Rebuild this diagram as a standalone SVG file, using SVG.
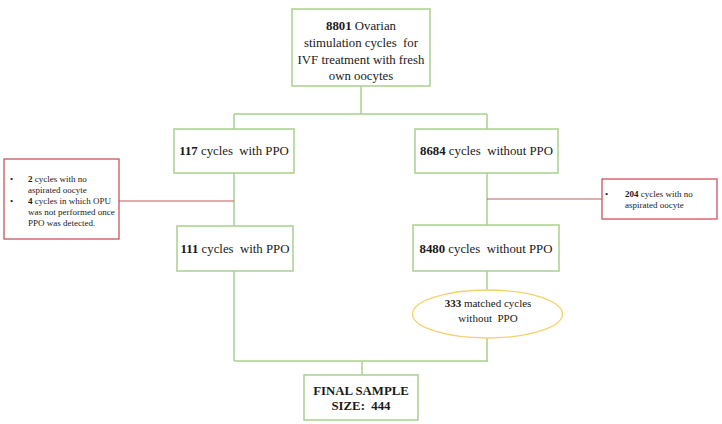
<svg xmlns="http://www.w3.org/2000/svg" width="722" height="424" viewBox="0 0 722 424">
  <style>
    .box { fill: #ffffff; stroke: #a9cf8f; stroke-width: 1.5; }
    .note { fill: #ffffff; stroke: #c9535c; stroke-width: 1.3; }
    .oval { fill: #ffffff; stroke: #f2d36b; stroke-width: 1.3; }
    .g { fill: none; stroke: #a9cf8f; stroke-width: 1.5; }
    .r { fill: none; stroke: #c25b5f; stroke-width: 1.2; }
    text { font-family: 'Liberation Serif', 'Times New Roman', serif; fill: #1a1a1a; white-space: pre; }
    .t { font-size: 12.8px; text-anchor: middle; }
    .s { font-size: 9px; }
    .o { font-size: 11px; text-anchor: middle; }
    .b { font-weight: bold; }
  </style>

  <!-- connectors -->
  <g id="connectors">
    <path class="g" d="M361 86 V114 M234 114 H487 M234 114 V129 M487 114 V129"/>
    <path class="g" d="M234 173 V226 M487 173 V225"/>
    <path class="g" d="M234 271 V361 M487 271 V290 M487 338 V361 M234 361 H488 M362 361 V375"/>
    <path class="r" d="M119 201 H234"/>
    <path class="r" d="M487 199 H602"/>
  </g>

  <g id="start">
    <rect class="box" x="292" y="9" width="138" height="77"/>
    <text class="t" x="361" y="30"><tspan class="b">8801</tspan> Ovarian</text>
    <text class="t" x="361" y="47">stimulation cycles  for</text>
    <text class="t" x="361" y="64">IVF treatment with fresh</text>
    <text class="t" x="361" y="80">own oocytes</text>
  </g>

  <g id="ppo117">
    <rect class="box" x="174" y="129" width="120" height="44"/>
    <text class="t" x="234" y="155"><tspan class="b">117</tspan> cycles  with PPO</text>
  </g>

  <g id="noppo8684">
    <rect class="box" x="415" y="129" width="143" height="44"/>
    <text class="t" x="486.5" y="155"><tspan class="b">8684</tspan> cycles  without PPO</text>
  </g>

  <g id="excluded-ppo">
    <rect class="note" x="4" y="159" width="115" height="80"/>
    <text class="s" x="10" y="182">•</text>
    <text class="s" x="28" y="182"><tspan class="b">2</tspan> cycles with no</text>
    <text class="s" x="28" y="193">aspirated oocyte</text>
    <text class="s" x="10" y="204">•</text>
    <text class="s" x="28" y="204"><tspan class="b">4</tspan> cycles in which OPU</text>
    <text class="s" x="28" y="215">was not performed once</text>
    <text class="s" x="28" y="226">PPO was detected.</text>
  </g>

  <g id="excluded-noppo">
    <rect class="note" x="602" y="179" width="115" height="40"/>
    <text class="s" x="605" y="197">•</text>
    <text class="s" x="625" y="197"><tspan class="b">204</tspan> cycles with no</text>
    <text class="s" x="625" y="208">aspirated oocyte</text>
  </g>

  <g id="ppo111">
    <rect class="box" x="177" y="226" width="116" height="45"/>
    <text class="t" x="235" y="253"><tspan class="b">111</tspan> cycles  with PPO</text>
  </g>

  <g id="noppo8480">
    <rect class="box" x="413" y="225" width="146" height="46"/>
    <text class="t" x="486" y="253"><tspan class="b">8480</tspan> cycles  without PPO</text>
  </g>

  <g id="matched">
    <ellipse class="oval" cx="487.5" cy="314" rx="75" ry="24"/>
    <text class="o" x="488" y="307"><tspan class="b">333</tspan> matched cycles</text>
    <text class="o" x="488" y="322">without  PPO</text>
  </g>

  <g id="final">
    <rect class="box" x="304" y="375" width="114" height="45"/>
    <text class="t b" x="361" y="395">FINAL SAMPLE</text>
    <text class="t b" x="361" y="410">SIZE:  444</text>
  </g>
</svg>
